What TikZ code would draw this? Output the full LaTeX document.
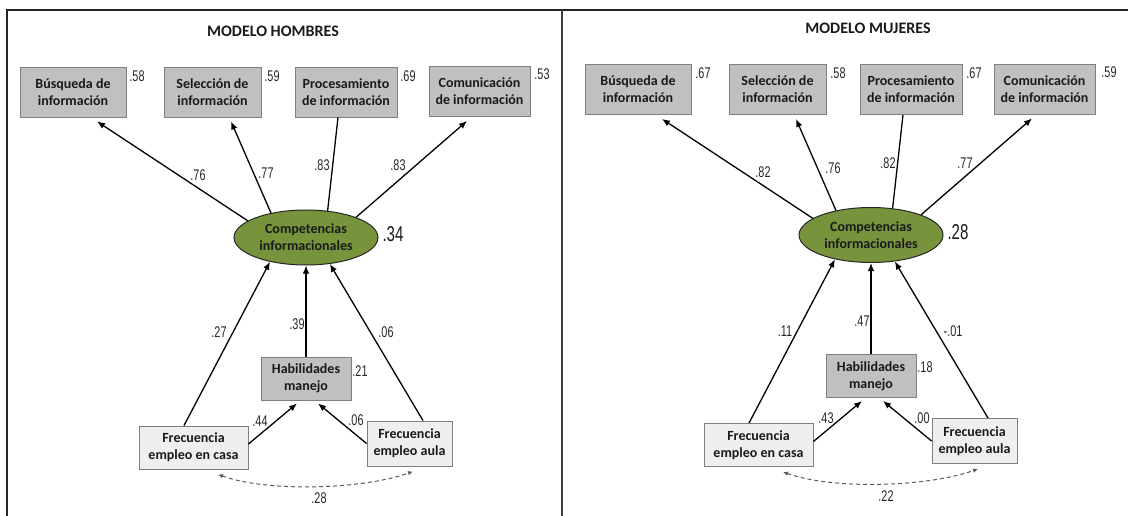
\documentclass[tikz,border=0pt]{standalone}
\usepackage{fontspec}
\setmainfont{Carlito}
\newfontfamily\numfont[FakeStretch=0.7]{Liberation Sans}
\usetikzlibrary{arrows.meta,shapes.geometric,calc}

\definecolor{boxgray}{HTML}{C0C0C0}
\definecolor{boxedge}{HTML}{7F7F7F}
\definecolor{lightbox}{HTML}{EFEFEF}
\definecolor{olivefill}{HTML}{77933C}
\definecolor{txt}{HTML}{1A1A1A}

\tikzset{
  obsbox/.style={draw=boxedge, line width=0.9pt, fill=boxgray, align=center,
    font=\fontsize{14}{17}\selectfont\bfseries, text=txt, inner sep=0pt, minimum height=50pt},
  exobox/.style={obsbox, fill=lightbox, minimum height=43pt},
  latent/.style={ellipse, draw=black!85, line width=1pt, fill=olivefill, minimum width=144pt,
    minimum height=55pt, inner sep=0pt, align=center,
    font=\fontsize{14}{17}\selectfont\bfseries, text=txt},
  coef/.style={font=\numfont\fontsize{15.5}{15.5}\selectfont, inner sep=0pt, text=black!85},
  bigcoef/.style={font=\numfont\fontsize{21.5}{21.5}\selectfont, inner sep=0pt, text=black!90},
  semarrow/.style={line width=1.3pt, -{Latex[length=8pt,width=6.5pt]}},
  semline/.style={line width=1.3pt},
  covarrow/.style={dash pattern=on 4pt off 3pt, line width=1pt, draw=black!65,
    {Latex[length=5pt,width=4.5pt]}-{Latex[length=5pt,width=4.5pt]}},
  paneltitle/.style={font=\fontsize{16}{18}\selectfont\bfseries, text=txt, inner sep=0pt}
}

\newcommand\sempanel[3]{%
  \node[paneltitle] (#1title) at (#3,31) {#2};
  \node[obsbox, minimum width=106pt] (#1b1) at (73,92) {Búsqueda de\\información};
  \node[obsbox, minimum width=97pt] (#1b2) at (212.5,92) {Selección de\\información};
  \node[obsbox, minimum width=102pt] (#1b3) at (346,92) {Procesamiento\\de información};
  \node[obsbox, minimum width=101pt] (#1b4) at (479.5,91.5) {Comunicación\\de información};
  \node[latent] (#1ell) at (306,237.5) {Competencias\\informacionales};
  \node[obsbox, minimum width=90pt, minimum height=43pt] (#1hab) at (306,378.5) {Habilidades\\manejo};
  \node[exobox, minimum width=109pt] (#1casa) at (193.5,447.5) {Frecuencia\\empleo en casa};
  \node[exobox, minimum width=85pt, minimum height=45pt] (#1aula) at (409.5,443.5) {Frecuencia\\empleo aula};
  \draw[semarrow] (#1ell.164) -- ($(#1b1.south)+(24pt,-4pt)$);
  \draw[semarrow] (#1ell.145) -- ($(#1b2.south)+(18.5pt,-4pt)$);
  \draw[semline] (#1ell.51) -- ($(#1b3.south)+(-8pt,0pt)$);
  \draw[semarrow] (#1ell.22) -- ($(#1b4.south)+(-12.5pt,-4pt)$);
  \draw[semarrow] ($(#1casa.north)+(-9.5pt,0pt)$) -- (#1ell.214);
  \draw[semarrow] (#1hab.north) -- (#1ell.south);
  \draw[semarrow] ($(#1aula.north)+(13.5pt,0pt)$) -- (#1ell.312);
  \draw[semarrow] ($(#1casa.east)+(0pt,3.5pt)$) -- ($(#1hab.south)+(-9pt,-3pt)$);
  \draw[semarrow] (#1aula.west) -- ($(#1hab.south)+(12pt,-3pt)$);
  \draw[covarrow] ($(#1casa.south)+(24.5pt,-5pt)$) .. controls +(50,18) and +(-50,18) .. ($(#1aula.south)+(3.5pt,-5pt)$);
}

\begin{document}
\begin{tikzpicture}[x=1pt,y=-1pt]
  \useasboundingbox (0,0) rectangle (1128,516);
  % frame
  \draw[line width=1.6pt, draw=black!85] (7,516) -- (7,10) -- (1128,10);
  \draw[line width=1.6pt, draw=black!75] (562,10) -- (562,516);

  % ---- left panel
  \begin{scope}
    \sempanel{L-}{MODELO HOMBRES}{273}
    \node[coef] (L-r1) at (137,76) {.58};
    \node[coef] (L-r2) at (272,76) {.59};
    \node[coef] (L-r3) at (408,76) {.69};
    \node[coef] (L-r4) at (542,74) {.53};
    \node[coef] (L-l1) at (198,175) {.76};
    \node[coef] (L-l2) at (266,173) {.77};
    \node[coef] (L-l3) at (322,165) {.83};
    \node[coef] (L-l4) at (398,165) {.83};
    \node[bigcoef] (L-r2e) at (393,234) {.34};
    \node[coef] (L-g1) at (219,332) {.27};
    \node[coef] (L-g2) at (297,324) {.39};
    \node[coef] (L-g3) at (386,332) {.06};
    \node[coef] (L-rh) at (360,371) {.21};
    \node[coef] (L-h1) at (260,421) {.44};
    \node[coef] (L-h2) at (356,420) {.06};
    \node[coef] (L-cv) at (319,498) {.28};
  \end{scope}

  % ---- right panel
  \begin{scope}[xshift=565pt, yshift=2.5pt]
    \sempanel{R-}{MODELO MUJERES}{303}
    \node[coef] (R-r1) at (138,75.5) {.67};
    \node[coef] (R-r2) at (273,75.5) {.58};
    \node[coef] (R-r3) at (409,75.5) {.67};
    \node[coef] (R-r4) at (544,74.5) {.59};
    \node[coef] (R-l1) at (198,174.5) {.82};
    \node[coef] (R-l2) at (268,170.5) {.76};
    \node[coef] (R-l3) at (323,165.5) {.82};
    \node[coef] (R-l4) at (400,165.5) {.77};
    \node[bigcoef] (R-r2e) at (393,234.5) {.28};
    \node[coef] (R-g1) at (220,333.5) {.11};
    \node[coef] (R-g2) at (297,323.5) {.47};
    \node[coef] (R-g3) at (388,333.5) {-.01};
    \node[coef] (R-rh) at (360,369.5) {.18};
    \node[coef] (R-h1) at (261,420.5) {.43};
    \node[coef] (R-h2) at (357,420.5) {.00};
    \node[coef] (R-cv) at (321,498.5) {.22};
  \end{scope}
\end{tikzpicture}
\end{document}
